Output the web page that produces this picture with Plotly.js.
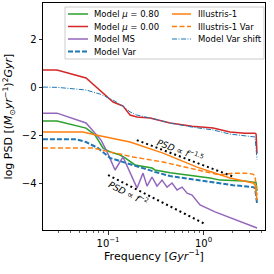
<!DOCTYPE html>
<html><head><meta charset="utf-8">
<script src="https://cdn.plot.ly/plotly-3.0.1.min.js"></script>
<style>html,body{margin:0;padding:0;background:#fff}#chart{width:274px;height:274px}</style>
</head><body><div id="chart"></div>
<script>
// Model mu = 0.80 (green)
const freqMu080 = [0.0208, 0.0292, 0.0588, 0.0731, 0.0887, 0.1049, 0.1336, 0.1506, 0.1918, 0.2886, 0.3102, 0.446, 1.17, 1.49, 2.7, 3.46, 3.55, 3.63];
const psdMu080  = [-1.40, -1.40, -1.69, -1.98, -2.52, -2.68, -2.81, -2.93, -3.22, -3.35, -3.43, -3.54, -3.76, -3.85, -3.89, -3.93, -3.96, -4.30];
// Model mu = 0.00 (red)
const freqMu000 = [0.0208, 0.0292, 0.0588, 0.0825, 0.113, 0.1435, 0.170, 0.200, 0.275, 0.446, 0.76, 1.26, 1.89, 2.7, 3.46, 3.55, 3.63];
const psdMu000  = [0.72, 0.72, 0.39, -0.11, -0.61, -0.78, -1.15, -1.23, -1.27, -1.48, -1.61, -1.69, -1.85, -1.90, -1.90, -1.94, -2.75];
// Model MS (purple)
const freqMS = [0.0208, 0.0292, 0.0588, 0.0845, 0.0977, 0.1184, 0.1435, 0.2013, 0.2324, 0.2559, 0.2886, 0.3258, 0.3675, 0.4146, 0.468, 0.528, 0.5956, 0.672, 0.758, 0.919, 1.319, 1.893, 2.718, 3.634];
const psdMS  = [-1.07, -1.07, -1.48, -2.19, -2.68, -3.43, -2.89, -4.18, -3.56, -4.10, -3.72, -4.10, -3.85, -4.14, -3.97, -4.26, -4.14, -4.39, -4.47, -4.88, -5.17, -5.42, -5.67, -5.84];
// Model Var (blue dashed)
const freqVar = [0.0208, 0.0462, 0.0588, 0.0786, 0.1049, 0.1435, 0.1827, 0.3102, 0.446, 1.17, 2.04, 3.30, 3.46, 3.63];
const psdVar  = [-2.15, -2.15, -2.27, -2.52, -2.93, -3.10, -3.22, -3.51, -3.68, -3.93, -4.06, -4.14, -4.18, -4.80];
// Illustris-1 (orange)
const freqIll = [0.0208, 0.0547, 0.0749, 0.1049, 0.170, 0.3765, 0.855, 1.893, 3.30, 3.46, 3.63];
const psdIll  = [-1.85, -1.85, -1.98, -2.10, -2.27, -2.73, -3.31, -3.76, -3.97, -4.05, -4.68];
// Illustris-1 Var (orange dashed)
const freqIllVar = [0.0208, 0.0697, 0.1049, 0.1827, 0.3765, 0.855, 1.49, 2.04, 2.72, 3.30, 3.46, 3.63];
const psdIllVar  = [-2.52, -2.52, -2.68, -2.89, -3.10, -3.43, -3.64, -3.56, -3.56, -3.60, -3.68, -4.47];
// Model Var shift (blue dash-dot)
const freqShift = [0.0208, 0.0292, 0.0588, 0.0825, 0.113, 0.1435, 0.170, 0.200, 0.275, 0.446, 0.76, 1.26, 1.89, 2.7, 3.46, 3.63];
const psdShift  = [0.01, 0.0, -0.11, -0.28, -0.53, -0.78, -1.02, -1.15, -1.27, -1.48, -1.65, -1.77, -1.94, -2.02, -2.06, -3.0];
// reference power laws
const freqSlope15 = [0.2, 2.0];
const psdSlope15  = [-2.19, -3.69];
const freqSlope2  = [0.1, 1.0];
const psdSlope2   = [-3.64, -5.64];
// tick labels
const xTickVals = [0.1, 1];
const xTickText = ['10<sup>−1</sup>', '10<sup>0</sup>'];
const xMinorVals = [0.03,0.04,0.05,0.06,0.07,0.08,0.09,0.2,0.3,0.4,0.5,0.6,0.7,0.8,0.9,2,3,4];
const yTickVals = [-4, -2, 0, 2];
// legend labels (two columns, matplotlib order)
const legendCol1 = ['Model <i>μ</i> = 0.80', 'Model <i>μ</i> = 0.00', 'Model MS', 'Model Var'];
const legendCol2 = ['Illustris-1', 'Illustris-1 Var', 'Model Var shift'];

const FONT = 'DejaVu Sans, sans-serif';
const styleGreen  = {color: '#2ca02c', width: 1.5};
const styleRed    = {color: '#d62728', width: 1.5};
const stylePurple = {color: '#9467bd', width: 1.5};
const styleVar    = {color: '#1f77b4', width: 2, dash: '5px,2px'};
const styleIll    = {color: '#ff7f0e', width: 1.5};
const styleIllVar = {color: '#ff7f0e', width: 1.5, dash: '5px,2.5px'};
const styleShift  = {color: '#1f77b4', width: 1, dash: '5px,1.5px,1px,1.5px'};
const styleRef    = {color: 'black', width: 2, dash: '2px,3px'};

const traces = [
  {x: freqMu080, y: psdMu080, name: legendCol1[0], line: styleGreen},
  {x: freqMu000, y: psdMu000, name: legendCol1[1], line: styleRed},
  {x: freqMS, y: psdMS, name: legendCol1[2], line: stylePurple},
  {x: freqVar, y: psdVar, name: legendCol1[3], line: styleVar},
  {x: freqIll, y: psdIll, name: legendCol2[0], line: styleIll},
  {x: freqIllVar, y: psdIllVar, name: legendCol2[1], line: styleIllVar},
  {x: freqShift, y: psdShift, name: legendCol2[2], line: styleShift},
  {x: freqSlope15, y: psdSlope15, name: 'PSD ∝ f^-1.5', line: styleRef},
  {x: freqSlope2, y: psdSlope2, name: 'PSD ∝ f^-2', line: styleRef}
].map(t => Object.assign({type: 'scatter', mode: 'lines', showlegend: false, hoverinfo: 'skip'}, t));

// legend box drawn in paper coordinates
const plotL = 43, plotT = 3, plotW = 222, plotH = 227;
const px = v => (v - plotL) / plotW;
const py = v => 1 - (v - plotT) / plotH;
const rowsY = [14, 26.5, 39, 51.5];
const col1Styles = [styleGreen, styleRed, stylePurple, styleVar];
const col2Styles = [styleIll, styleIllVar, styleShift];
const shapes = [{type: 'rect', xref: 'paper', yref: 'paper', x0: px(65), x1: px(264), y0: py(59), y1: py(7),
  fillcolor: 'rgba(255,255,255,0.8)', line: {color: '#cccccc', width: 1}, layer: 'above'}];
const annotations = [];
function addEntry(style, label, lx0, lx1, tx, ry) {
  shapes.push({type: 'line', xref: 'paper', yref: 'paper', x0: px(lx0), x1: px(lx1), y0: py(ry), y1: py(ry),
    line: style, layer: 'above'});
  annotations.push({xref: 'paper', yref: 'paper', x: px(tx), y: py(ry), xanchor: 'left', yanchor: 'middle',
    showarrow: false, text: label, font: {size: 8.5}});
}
legendCol1.forEach((lab, i) => addEntry(col1Styles[i], lab, 68, 88, 92, rowsY[i]));
legendCol2.forEach((lab, i) => addEntry(col2Styles[i], lab, 172, 191, 196, rowsY[i]));

annotations.push(
  {x: Math.log10(0.5675), y: -2.60, xref: 'x', yref: 'y', showarrow: false, textangle: 21,
   text: '<i>PSD</i> ∝ <i>f</i><sup>−1.5</sup>', font: {size: 9}},
  {x: Math.log10(0.162), y: -4.39, xref: 'x', yref: 'y', showarrow: false, textangle: 27,
   text: '<i>PSD</i> ∝ <i>f</i><sup>−2</sup>', font: {size: 9}}
);

const layout = {
  width: 274, height: 274,
  margin: {l: 43, r: 9, t: 3, b: 44},
  paper_bgcolor: 'white', plot_bgcolor: 'white',
  font: {family: FONT, color: 'black', size: 10},
  showlegend: false,
  xaxis: {
    type: 'log', range: [Math.log10(0.02084), Math.log10(4.4)],
    tickmode: 'array', tickvals: xTickVals, ticktext: xTickText,
    ticks: 'outside', ticklen: 3.5, tickwidth: 0.8, tickcolor: 'black',
    minor: {tickmode: 'array', tickvals: xMinorVals, ticks: 'outside', ticklen: 2, tickwidth: 0.6, tickcolor: 'black', showgrid: false},
    showline: true, linecolor: 'black', linewidth: 1, mirror: true,
    showgrid: false, zeroline: false,
    tickfont: {size: 10},
    title: {text: 'Frequency [<i>Gyr</i><sup>−1</sup>]', font: {size: 11}, standoff: 4}
  },
  yaxis: {
    range: [-5.92, 3.5],
    tickmode: 'array', tickvals: yTickVals,
    ticks: 'outside', ticklen: 3.5, tickwidth: 0.8, tickcolor: 'black',
    showline: true, linecolor: 'black', linewidth: 1, mirror: true,
    showgrid: false, zeroline: false,
    tickfont: {size: 10},
    title: {text: 'log PSD [(<i>M</i><sub>⊙</sub><i>yr</i><sup>−1</sup>)<sup>2</sup><i>Gyr</i>]', font: {size: 11}, standoff: 6}
  },
  shapes: shapes,
  annotations: annotations
};

Plotly.newPlot('chart', traces, layout, {displayModeBar: false, staticPlot: true});
</script>
</body></html>
